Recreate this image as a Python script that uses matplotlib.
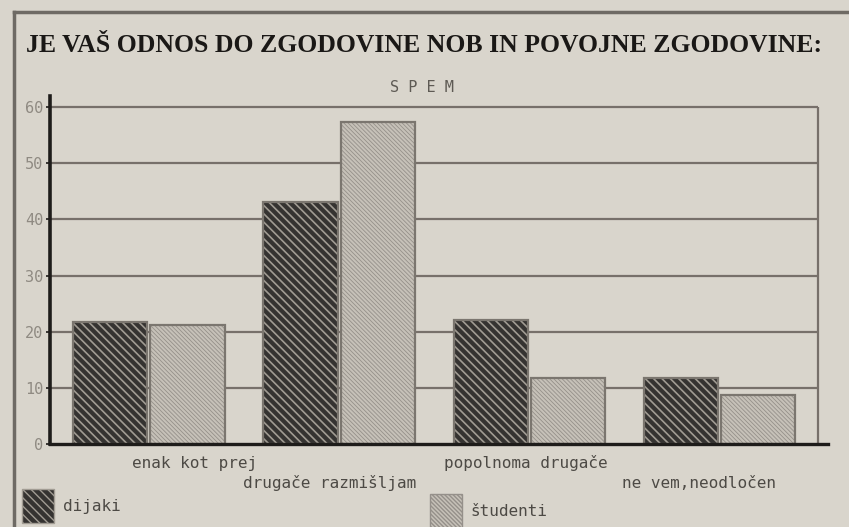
import matplotlib.pyplot as plt
import numpy as np
from matplotlib.lines import Line2D
from matplotlib.patches import Patch

categories = ["enak kot prej", "drugače razmišljam", "popolnoma drugače", "ne vem,neodločen"]
dijaki = [21.8, 43.1, 22.1, 11.7]
studenti = [21.2, 57.4, 11.7, 8.7]
series_labels = ["dijaki", "študenti"]
yticks = [0, 10, 20, 30, 40, 50, 60]

TITLE = "JE VAŠ ODNOS DO ZGODOVINE NOB IN POVOJNE ZGODOVINE:"
SUBTITLE = "S P E M"

PAPER = "#d9d5cc"
GRID = "#77706a"
DARK = "#353331"
DARK_HATCH = "#a19c93"
LIGHT = "#c6c1b8"
LIGHT_HATCH = "#95908a"
EDGE = "#7b766f"
TEXT = "#4d4a45"
MONO = "DejaVu Sans Mono"
DARK_PAT = "\\" * 4
LIGHT_PAT = "\\" * 8

W, H = 849, 527
fig = plt.figure(figsize=(W / 100, H / 100), dpi=100)
fig.patch.set_facecolor(PAPER)

# axes in pixel terms: left axis at x=50, baseline at y=444, top of axis line ~96
ax = fig.add_axes([50 / W, (H - 444) / H, (828 - 50) / W, (444 - 96) / H])
ax.set_facecolor("none")
ax.set_xlim(-0.52, 3.57)
ax.set_ylim(0, 62)

xs = np.arange(len(categories))
width = 0.39
gap = 0.008
frame_right = 3.52

# grid lines and right frame
ax.hlines(yticks[1:], -0.52, frame_right, color=GRID, lw=1.6, zorder=1)
ax.vlines(frame_right, 0, 60, color=GRID, lw=1.6, zorder=1)

x_dij = xs - width / 2 - gap
x_stu = xs + width / 2 + gap

with plt.rc_context({"hatch.linewidth": 1.2}):
    ax.bar(x_dij, dijaki, width=width, color=DARK, edgecolor=DARK_HATCH,
           hatch=DARK_PAT, lw=0, zorder=2)
with plt.rc_context({"hatch.linewidth": 0.6}):
    ax.bar(x_stu, studenti, width=width, color=LIGHT, edgecolor=LIGHT_HATCH,
           hatch=LIGHT_PAT, lw=0, zorder=2)
ax.bar(x_dij, dijaki, width=width, facecolor="none", edgecolor=EDGE, lw=1.6, zorder=3)
ax.bar(x_stu, studenti, width=width, facecolor="none", edgecolor=EDGE, lw=1.6, zorder=3)

for side in ["top", "right"]:
    ax.spines[side].set_visible(False)
ax.spines["left"].set_linewidth(2.6)
ax.spines["left"].set_color("#1e1c1a")
ax.spines["bottom"].set_linewidth(2.4)
ax.spines["bottom"].set_color("#1e1c1a")
ax.spines["bottom"].set_zorder(4)

ax.set_yticks(yticks)
ax.set_yticklabels([str(v) for v in yticks], fontsize=11, color="#8f8a82", family=MONO)
ax.tick_params(axis="y", length=3, width=1.2, color="#1e1c1a", pad=2)
ax.set_xticks([])

# staggered category labels
label_dx = [0.24, -0.05, -0.02, -0.11]
label_y = [-3.4, -7.0, -3.4, -7.0]
for i, (cat, dx, dy) in enumerate(zip(categories, label_dx, label_y)):
    ax.text(xs[i] + dx, dy, cat, ha="center", va="center", fontsize=11.5,
            family=MONO, color=TEXT, clip_on=False)

# legend entries
with plt.rc_context({"hatch.linewidth": 1.2}):
    h_dij = Patch(facecolor=DARK, edgecolor=DARK_HATCH, hatch=DARK_PAT)
with plt.rc_context({"hatch.linewidth": 0.6}):
    h_stu = Patch(facecolor=LIGHT, edgecolor=LIGHT_HATCH, hatch=LIGHT_PAT)
leg_kw = dict(frameon=False, prop={"family": MONO, "size": 11.5}, handlelength=2.0,
              handleheight=2.9, labelcolor=TEXT, handletextpad=0.55,
              borderpad=0, borderaxespad=0, loc="center left")
fig.legend(handles=[h_dij], labels=[series_labels[0]],
           bbox_to_anchor=(22 / W, 1 - 506 / H), **leg_kw)
fig.legend(handles=[h_stu], labels=[series_labels[1]],
           bbox_to_anchor=(430 / W, 1 - 511 / H), **leg_kw)

# outer frame of the newspaper box
fig.add_artist(Line2D([14 / W, 14 / W], [0, 1 - 12 / H], color="#6e6a64", lw=2.5))
fig.add_artist(Line2D([14 / W, 1], [1 - 12 / H, 1 - 12 / H], color="#6e6a64", lw=2.5))

fig.text(424 / W, 1 - 46 / H, TITLE, ha="center", va="center", fontsize=18.5,
         family="Liberation Serif", fontweight="bold", color="#1a1816")
fig.text(422 / W, 1 - 87 / H, SUBTITLE, ha="center", va="center", fontsize=11,
         family=MONO, color="#5e5a54")

fig.savefig("out.png", dpi=100, facecolor=PAPER)
plt.close(fig)
